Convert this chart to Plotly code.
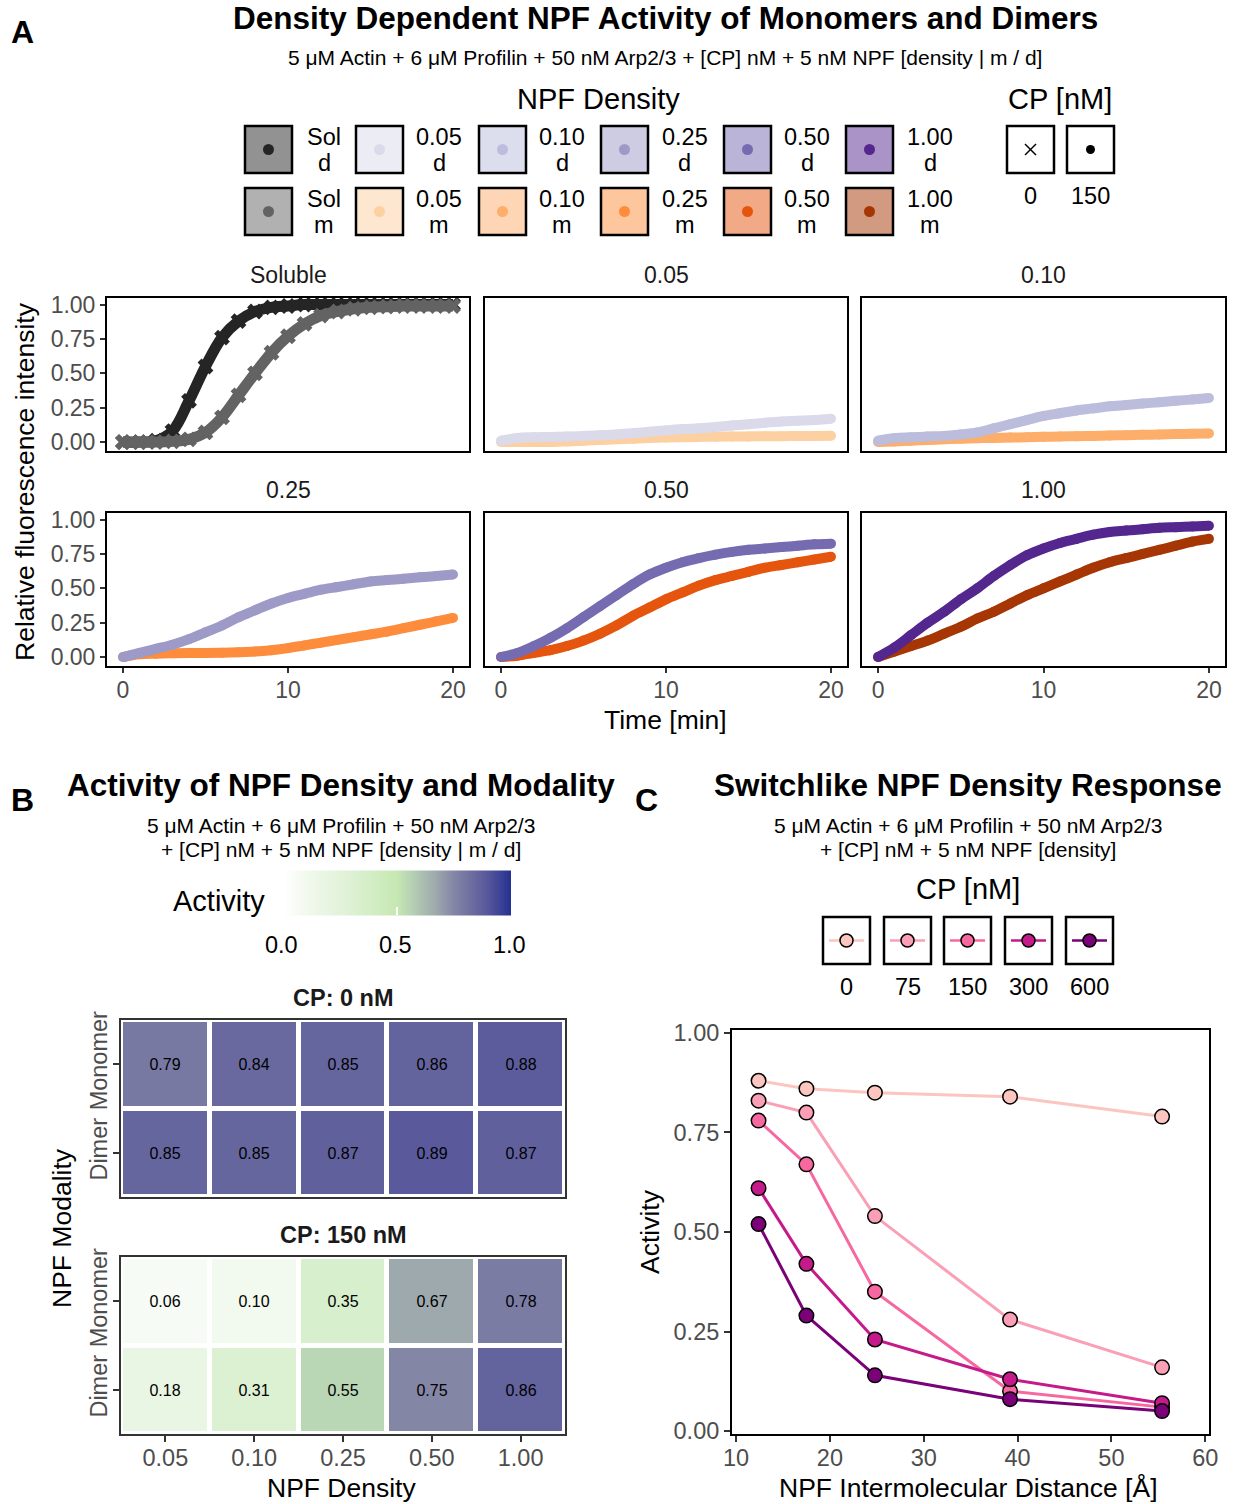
import plotly.graph_objects as go

W, H = 1237, 1504
FONT = "Liberation Sans, Arial, Helvetica, sans-serif"
TICK_GREY = "#4d4d4d"

# ---------------- Data: panel A (relative fluorescence vs time) ----------------
time_min = [0, 1, 2, 3, 4, 5, 6, 7, 8, 9, 10, 11, 12, 13, 14, 15, 16, 17, 18, 19, 20]

sol_d = [0.0, 0.0, 0.01, 0.08, 0.30, 0.55, 0.76, 0.88, 0.95, 0.98, 0.99, 1.0, 1.0, 1.0, 1.0, 1.0, 1.0, 1.0, 1.0, 1.0, 1.0]
sol_m = [0.0, 0.0, 0.0, 0.005, 0.02, 0.07, 0.18, 0.34, 0.50, 0.65, 0.77, 0.86, 0.92, 0.95, 0.97, 0.98, 0.985, 0.99, 0.99, 0.99, 0.99]

d005 = [0.01, 0.03, 0.035, 0.037, 0.04, 0.045, 0.05, 0.055, 0.065, 0.075, 0.085, 0.095, 0.10, 0.11, 0.12, 0.13, 0.14, 0.15, 0.155, 0.16, 0.17]
m005 = [0.0, 0.0, 0.0, 0.0, 0.005, 0.01, 0.015, 0.02, 0.025, 0.03, 0.033, 0.035, 0.037, 0.039, 0.04, 0.041, 0.042, 0.043, 0.044, 0.045, 0.046]

d010 = [0.01, 0.03, 0.035, 0.04, 0.045, 0.055, 0.07, 0.10, 0.13, 0.16, 0.19, 0.21, 0.23, 0.245, 0.26, 0.27, 0.28, 0.29, 0.30, 0.31, 0.32]
m010 = [0.0, 0.005, 0.01, 0.015, 0.02, 0.025, 0.028, 0.03, 0.033, 0.035, 0.038, 0.04, 0.043, 0.045, 0.048, 0.05, 0.053, 0.055, 0.058, 0.06, 0.063]

d025 = [0.0, 0.03, 0.06, 0.09, 0.13, 0.18, 0.23, 0.29, 0.34, 0.39, 0.43, 0.46, 0.49, 0.51, 0.53, 0.55, 0.56, 0.57, 0.58, 0.59, 0.60]
m025 = [0.0, 0.02, 0.025, 0.028, 0.03, 0.03, 0.032, 0.035, 0.04, 0.05, 0.065, 0.085, 0.105, 0.125, 0.145, 0.165, 0.185, 0.21, 0.235, 0.26, 0.285]

d050 = [0.0, 0.03, 0.08, 0.14, 0.21, 0.29, 0.37, 0.45, 0.53, 0.60, 0.65, 0.69, 0.72, 0.745, 0.765, 0.78, 0.79, 0.80, 0.81, 0.82, 0.825]
m050 = [0.0, 0.01, 0.03, 0.05, 0.08, 0.12, 0.17, 0.23, 0.30, 0.36, 0.42, 0.47, 0.52, 0.56, 0.59, 0.62, 0.65, 0.67, 0.69, 0.71, 0.73]

d100 = [0.0, 0.07, 0.16, 0.25, 0.33, 0.42, 0.50, 0.59, 0.67, 0.74, 0.79, 0.83, 0.86, 0.89, 0.91, 0.92, 0.93, 0.94, 0.945, 0.95, 0.955]
m100 = [0.0, 0.04, 0.08, 0.12, 0.17, 0.22, 0.28, 0.33, 0.39, 0.45, 0.50, 0.55, 0.60, 0.65, 0.69, 0.72, 0.75, 0.78, 0.81, 0.84, 0.86]

facet_labels = ["Soluble", "0.05", "0.10", "0.25", "0.50", "1.00"]
density_keys = ["Sol", "0.05", "0.10", "0.25", "0.50", "1.00"]
dimer_series = [sol_d, d005, d010, d025, d050, d100]
monomer_series = [sol_m, m005, m010, m025, m050, m100]
dimer_colors = ["#252525", "#dadaeb", "#bcbddc", "#9e9ac8", "#756bb1", "#54278f"]
monomer_colors = ["#636363", "#fdd0a2", "#fdae6b", "#fd8d3c", "#e6550d", "#a63603"]
cp_levels_A = ["0", "150"]

# ---------------- Data: panel B (heatmaps) ----------------
npf_density = ["0.05", "0.10", "0.25", "0.50", "1.00"]
modality = ["Dimer", "Monomer"]
cp0_dimer = [0.85, 0.85, 0.87, 0.89, 0.87]
cp0_monomer = [0.79, 0.84, 0.85, 0.86, 0.88]
cp150_dimer = [0.18, 0.31, 0.55, 0.75, 0.86]
cp150_monomer = [0.06, 0.10, 0.35, 0.67, 0.78]
colorbar_ticks = [0.0, 0.5, 1.0]

# ---------------- Data: panel C ----------------
npf_distance = [12.4, 17.5, 24.8, 39.2, 55.4]
cp_levels_C = ["0", "75", "150", "300", "600"]
act_cp0 = [0.88, 0.86, 0.85, 0.84, 0.79]
act_cp75 = [0.83, 0.80, 0.54, 0.28, 0.16]
act_cp150 = [0.78, 0.67, 0.35, 0.10, 0.06]
act_cp300 = [0.61, 0.42, 0.23, 0.13, 0.07]
act_cp600 = [0.52, 0.29, 0.14, 0.08, 0.05]
activity_C = [act_cp0, act_cp75, act_cp150, act_cp300, act_cp600]
cp_colors_C = ["#fcc5c0", "#fa9fb5", "#f768a1", "#c51b8a", "#7a0177"]


# ---------------- helpers (layout positions given in target pixels) ----------------
def fx(x):
    return min(max(x / W, 0.0), 1.0)


def fy(y):
    return min(max(1 - y / H, 0.0), 1.0)


def dom_x(l, r):
    return [fx(l), fx(r)]


def dom_y(t, b):
    return [fy(b), fy(t)]


def hex_alpha(h, a):
    h = h.lstrip("#")
    r, g, b = int(h[0:2], 16), int(h[2:4], 16), int(h[4:6], 16)
    return f"rgba({r},{g},{b},{a})"


annotations = []
shapes = []


def ann(text, x, y, size, color="black", bold=False, angle=0, xanchor="center", yanchor="middle"):
    if bold:
        text = f"<b>{text}</b>"
    annotations.append(dict(text=text, x=fx(x), y=fy(y), xref="paper", yref="paper",
                            showarrow=False, textangle=angle, xanchor=xanchor, yanchor=yanchor,
                            font=dict(family=FONT, size=size, color=color)))


def rect(x0, y0, x1, y1, fill, line="black", lw=2.5):
    shapes.append(dict(type="rect", xref="paper", yref="paper", x0=fx(x0), x1=fx(x1),
                       y0=fy(y1), y1=fy(y0), fillcolor=fill, line=dict(color=line, width=lw), layer="above"))


def circle(cx, cy, d, fill, line=None, lw=0):
    shapes.append(dict(type="circle", xref="paper", yref="paper", x0=fx(cx - d / 2), x1=fx(cx + d / 2),
                       y0=fy(cy + d / 2), y1=fy(cy - d / 2), fillcolor=fill,
                       line=dict(color=line if line else fill, width=lw), layer="above"))


def seg(x0, y0, x1, y1, color, lw):
    shapes.append(dict(type="line", xref="paper", yref="paper", x0=fx(x0), x1=fx(x1),
                       y0=fy(y0), y1=fy(y1), line=dict(color=color, width=lw), layer="above"))


fig = go.Figure()
layout = dict(width=W, height=H, margin=dict(l=0, r=0, t=0, b=0, autoexpand=False), paper_bgcolor="white",
              plot_bgcolor="white", showlegend=False, font=dict(family=FONT))

# ================= Panel A =================
A_cols = [(107, 469), (485, 847), (862, 1225)]
A_rows = [(298, 451), (513, 666)]
A_xrange = [-0.97, 20.97]
A_yrange = [-0.065, 1.048]

for i in range(6):
    r, c = divmod(i, 3)
    n = i + 1
    xa = "x" if n == 1 else f"x{n}"
    ya = "y" if n == 1 else f"y{n}"
    xkey = "xaxis" if n == 1 else f"xaxis{n}"
    ykey = "yaxis" if n == 1 else f"yaxis{n}"
    layout[xkey] = dict(domain=dom_x(*A_cols[c]), range=A_xrange, anchor=ya, showgrid=False, zeroline=False,
                        showline=True, mirror=True, linecolor="black", linewidth=2,
                        tickvals=[0, 10, 20], ticks="outside" if r == 1 else "", ticklen=5, tickwidth=2,
                        tickcolor="#333333", showticklabels=(r == 1), ticklabelstandoff=-3,
                        tickfont=dict(family=FONT, size=23, color=TICK_GREY))
    layout[ykey] = dict(domain=dom_y(*A_rows[r]), range=A_yrange, anchor=xa, showgrid=False, zeroline=False,
                        showline=True, mirror=True, linecolor="black", linewidth=2,
                        tickvals=[0, 0.25, 0.5, 0.75, 1.0], tickformat=".2f",
                        ticks="outside" if c == 0 else "", ticklen=5, tickwidth=2, tickcolor="#333333",
                        showticklabels=(c == 0), tickfont=dict(family=FONT, size=23, color=TICK_GREY))
    soluble = (i == 0)
    pairs = [(dimer_series[i], dimer_colors[i]), (monomer_series[i], monomer_colors[i])]
    if not soluble:
        pairs = pairs[::-1]  # dimer drawn on top
    for vals, col in pairs:
        if soluble:
            fig.add_trace(go.Scatter(x=time_min, y=vals, xaxis=xa, yaxis=ya, mode="lines+markers",
                                     line=dict(color=col, width=11, shape="spline", smoothing=1.0),
                                     marker=dict(symbol="x", size=14, color=col), hoverinfo="skip"))
        else:
            fig.add_trace(go.Scatter(x=time_min, y=vals, xaxis=xa, yaxis=ya, mode="lines+markers",
                                     line=dict(color=col, width=10, shape="spline", smoothing=1.0),
                                     marker=dict(symbol="circle", size=10, color=col), hoverinfo="skip"))
    cx = (A_cols[c][0] + A_cols[c][1]) / 2
    ann(facet_labels[i], cx, A_rows[r][0] - 23, 23, color="#1a1a1a")

ann("Relative fluorescence intensity", 25, 482, 26.5, angle=-90)
ann("Time [min]", 665, 720, 26.5)
ann("A", 22, 32, 32, bold=True)
ann("Density Dependent NPF Activity of Monomers and Dimers", 665, 18, 31.5, bold=True)
ann("5 μM Actin + 6 μM Profilin + 50 nM Arp2/3 + [CP] nM + 5 nM NPF [density | m / d]", 665, 57, 21)

# Legend: NPF Density (keys)
ann("NPF Density", 598, 99, 29)
key_left = [245, 356, 479, 601, 724, 846]
key_label_x = [324, 439, 562, 685, 807, 930]
KEY = 47
for j in range(6):
    for row, (cols, suffix, top) in enumerate([(dimer_colors, "d", 126), (monomer_colors, "m", 188)]):
        x0 = key_left[j]
        rect(x0, top, x0 + KEY, top + KEY, hex_alpha(cols[j], 0.5))
        circle(x0 + KEY / 2, top + KEY / 2, 11, cols[j])
        ann(density_keys[j], key_label_x[j], top + 11, 23.5)
        ann(suffix, key_label_x[j], top + 37, 23.5)

# Legend: CP [nM] for panel A
ann("CP [nM]", 1060, 99, 29)
cp_key_left = [1007, 1067]
for j, lab in enumerate(cp_levels_A):
    x0 = cp_key_left[j]
    rect(x0, 126, x0 + KEY, 126 + KEY, "white")
    cx, cy = x0 + KEY / 2, 126 + KEY / 2
    if lab == "0":
        seg(cx - 5.5, cy - 5.5, cx + 5.5, cy + 5.5, "black", 1.5)
        seg(cx - 5.5, cy + 5.5, cx + 5.5, cy - 5.5, "black", 1.5)
    else:
        circle(cx, cy, 9, "black")
    ann(lab, x0 + KEY / 2, 196, 23.5)

# ================= Panel B =================
ann("B", 22, 800, 32, bold=True)
ann("Activity of NPF Density and Modality", 341, 785, 31.5, bold=True)
ann("5 μM Actin + 6 μM Profilin + 50 nM Arp2/3", 341, 825, 21)
ann("+ [CP] nM + 5 nM NPF [density | m / d]", 341, 849, 21)

colorscale = [[0.0, "#ffffff"], [0.1, "#f2f9ee"], [0.3, "#ddf1d4"], [0.5, "#c6e8b2"],
              [0.55, "#b9d6b5"], [0.67, "#9ea9ad"], [0.75, "#8486a6"], [0.85, "#66669e"],
              [0.9, "#56569b"], [1.0, "#253191"]]

CB_L, CB_R, CB_T, CB_B = 283, 511, 875, 920
layout["coloraxis"] = dict(colorscale=colorscale, cmin=0, cmax=1,
                           colorbar=dict(orientation="h", x=fx((CB_L + CB_R) / 2), xanchor="center",
                                         y=fy((CB_T + CB_B) / 2), yanchor="middle",
                                         len=CB_R - CB_L, lenmode="pixels", thickness=CB_B - CB_T,
                                         thicknessmode="pixels", outlinewidth=0, xpad=0, ypad=0,
                                         tickvals=colorbar_ticks, ticks="inside", ticklen=8,
                                         tickcolor="white", tickwidth=1.5, showticklabels=False))
ann("Activity", 219, 901, 29)
for t in colorbar_ticks:
    ann(f"{t:.1f}", CB_L + t * (CB_R - CB_L) - 2, 945, 23.5)

HB_X = (121, 565)
HB_rows = [(1020, 1197, "CP: 0 nM", [cp0_dimer, cp0_monomer]), (1257, 1434, "CP: 150 nM", [cp150_dimer, cp150_monomer])]
for k, (t, b, title, z) in enumerate(HB_rows):
    n = 7 + k
    xa, ya = f"x{n}", f"y{n}"
    fig.add_trace(go.Heatmap(x=npf_density, y=modality, z=z, xaxis=xa, yaxis=ya, coloraxis="coloraxis",
                             xgap=5, ygap=5, texttemplate="%{z:.2f}",
                             textfont=dict(family=FONT, size=16, color="black"), hoverinfo="skip"))
    layout[f"xaxis{n}"] = dict(domain=dom_x(*HB_X), anchor=ya, type="category", range=[-0.5, 4.5],
                               showgrid=False, zeroline=False, showline=True, mirror=True,
                               linecolor="#333333", linewidth=1.5, ticklabelstandoff=-4,
                               ticks="outside" if k == 1 else "", ticklen=6, tickwidth=1.5, tickcolor="#333333",
                               showticklabels=(k == 1), tickfont=dict(family=FONT, size=23.5, color=TICK_GREY))
    layout[f"yaxis{n}"] = dict(domain=dom_y(t, b), anchor=xa, type="category", range=[-0.5, 1.5],
                               showgrid=False, zeroline=False, showline=True, mirror=True,
                               linecolor="#333333", linewidth=1.5, ticks="outside", ticklen=6, tickwidth=1.5,
                               tickcolor="#333333", tickangle=-90, ticklabelstandoff=-3,
                               tickfont=dict(family=FONT, size=23.5, color=TICK_GREY))
    ann(title, (HB_X[0] + HB_X[1]) / 2, t - 22, 23.5, bold=True, color="#1a1a1a")

ann("NPF Density", 341, 1488, 26.5)
ann("NPF Modality", 62, 1228, 26.5, angle=-90)

# ================= Panel C =================
ann("C", 646, 800, 32, bold=True)
ann("Switchlike NPF Density Response", 968, 785, 31.5, bold=True)
ann("5 μM Actin + 6 μM Profilin + 50 nM Arp2/3", 968, 825, 21)
ann("+ [CP] nM + 5 nM NPF [density]", 968, 849, 21)
ann("CP [nM]", 968, 889, 29)

c_key_left = [823, 884, 944, 1005, 1066]
for j, lab in enumerate(cp_levels_C):
    x0 = c_key_left[j]
    rect(x0, 917, x0 + KEY, 917 + KEY, "white")
    cy = 917 + KEY / 2
    seg(x0 + 6, cy, x0 + KEY - 6, cy, cp_colors_C[j], 2.5)
    circle(x0 + KEY / 2, cy, 13, cp_colors_C[j], "black", 1.5)
    ann(lab, x0 + KEY / 2, 987, 23.5)

for j in range(5):
    fig.add_trace(go.Scatter(x=npf_distance, y=activity_C[j], xaxis="x9", yaxis="y9", mode="lines+markers",
                             line=dict(color=cp_colors_C[j], width=3),
                             marker=dict(size=14.5, color=cp_colors_C[j], line=dict(color="black", width=1.5)),
                             hoverinfo="skip"))
layout["xaxis9"] = dict(domain=dom_x(732, 1209), anchor="y9", range=[9.57, 60.4], showgrid=False, zeroline=False,
                        showline=True, mirror=True, linecolor="black", linewidth=2, ticklabelstandoff=-4,
                        tickvals=[10, 20, 30, 40, 50, 60], ticks="outside", ticklen=6, tickwidth=1.5,
                        tickcolor="#333333", tickfont=dict(family=FONT, size=23.5, color=TICK_GREY))
layout["yaxis9"] = dict(domain=dom_y(1030, 1434), anchor="x9", range=[-0.0075, 1.0075], showgrid=False,
                        zeroline=False, showline=True, mirror=True, linecolor="black", linewidth=2,
                        tickvals=[0, 0.25, 0.5, 0.75, 1.0], tickformat=".2f", ticks="outside", ticklen=6,
                        tickwidth=1.5, tickcolor="#333333", tickfont=dict(family=FONT, size=23.5, color=TICK_GREY))
ann("Activity", 650, 1232, 26.5, angle=-90)
ann("NPF Intermolecular Distance [Å]", 968, 1488, 26.5)

layout["annotations"] = annotations
layout["shapes"] = shapes
fig.update_layout(**layout)
fig.write_html(
    "out.html",
    include_plotlyjs=True,
    config={"displayModeBar": False},
    post_script=(
        "document.body.style.margin='0px';"
        "document.body.style.padding='0px';"
        "document.body.style.overflow='hidden';"
        "document.documentElement.style.overflow='hidden';"
    ),
)
